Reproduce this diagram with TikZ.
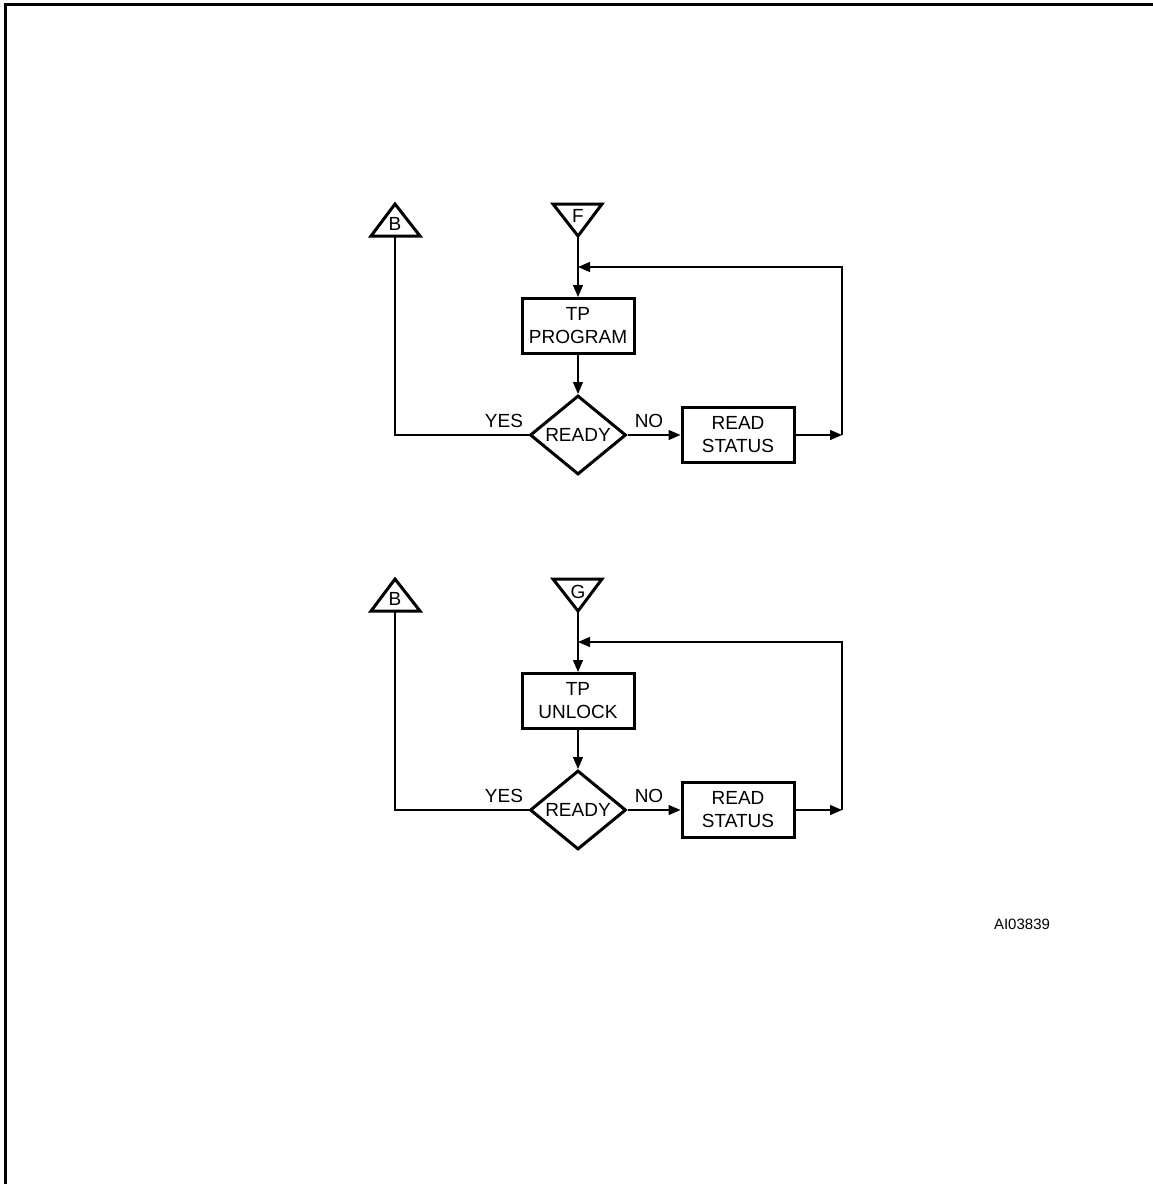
\documentclass[tikz,border=0pt]{standalone}
\usepackage{fontspec}
\setmainfont{Liberation Sans}
\usetikzlibrary{arrows.meta,shapes.geometric}
\begin{document}
\begin{tikzpicture}[x=1pt,y=-1pt,
  thinline/.style={line width=1.3pt},
  arr/.style={line width=1.3pt,-{Triangle[length=12pt,width=10pt]}},
  stepbox/.style={draw,line width=3pt,minimum width=112pt,minimum height=55pt,align=center,inner sep=0pt,font=\fontsize{19}{23}\selectfont},
  dia/.style={draw,diamond,line width=3pt,minimum width=96pt,minimum height=79pt,inner sep=0pt,font=\fontsize{19}{23}\selectfont},
  lbl/.style={inner sep=0pt,font=\fontsize{19}{23}\selectfont},
  tri/.style={line width=3pt,line join=miter}]
\useasboundingbox (0,0) rectangle (1153,1184);
\draw[line width=3pt] (5,1184) -- (5,4) -- (1153,4);

% ---------- first flow ----------
\draw[tri] (371,236) -- (395,204) -- (420,236) -- cycle;
\node[lbl] (b1) at (395,224) {B};
\coordinate (b1base) at (395,236);
\draw[tri] (553,204) -- (602,204) -- (578,236) -- cycle;
\node[lbl] (f1) at (578,216) {F};
\coordinate (f1apex) at (578,236);
\node[stepbox] (tp1) at (578,326) {TP\\PROGRAM};
\node[dia] (rd1) at (578,435) {READY};
\node[stepbox] (rs1) at (738,435) {READ\\STATUS};
\coordinate (j1) at (578,267);
\coordinate (c1a) at (842,267);
\coordinate (c1b) at (842,435);
\draw[thinline] (f1apex) -- (j1);
\draw[arr] (j1) -- (tp1.north);
\draw[arr] (tp1.south) -- (rd1.north);
\draw[arr] (rd1.east) -- (rs1.west);
\draw[arr] (rs1.east) -- (c1b);
\draw[arr] (c1b) -- (c1a) -- (j1);
\draw[thinline] (b1base) |- (rd1.west);
\node[lbl] (yes1) at (504,421) {YES};
\node[lbl] (no1) at (649,421) {NO};

% ---------- second flow ----------
\draw[tri] (371,611) -- (395,579) -- (420,611) -- cycle;
\node[lbl] (b2) at (395,599) {B};
\coordinate (b2base) at (395,611);
\draw[tri] (553,579) -- (602,579) -- (578,611) -- cycle;
\node[lbl] (g2) at (578,592) {G};
\coordinate (g2apex) at (578,611);
\node[stepbox] (tp2) at (578,701) {TP\\UNLOCK};
\node[dia] (rd2) at (578,810) {READY};
\node[stepbox] (rs2) at (738,810) {READ\\STATUS};
\coordinate (j2) at (578,642);
\coordinate (c2a) at (842,642);
\coordinate (c2b) at (842,810);
\draw[thinline] (g2apex) -- (j2);
\draw[arr] (j2) -- (tp2.north);
\draw[arr] (tp2.south) -- (rd2.north);
\draw[arr] (rd2.east) -- (rs2.west);
\draw[arr] (rs2.east) -- (c2b);
\draw[arr] (c2b) -- (c2a) -- (j2);
\draw[thinline] (b2base) |- (rd2.west);
\node[lbl] (yes2) at (504,796) {YES};
\node[lbl] (no2) at (649,796) {NO};

\node[inner sep=0pt,font=\fontsize{15}{18}\selectfont] (code) at (1022,924) {AI03839};
\end{tikzpicture}
\end{document}
